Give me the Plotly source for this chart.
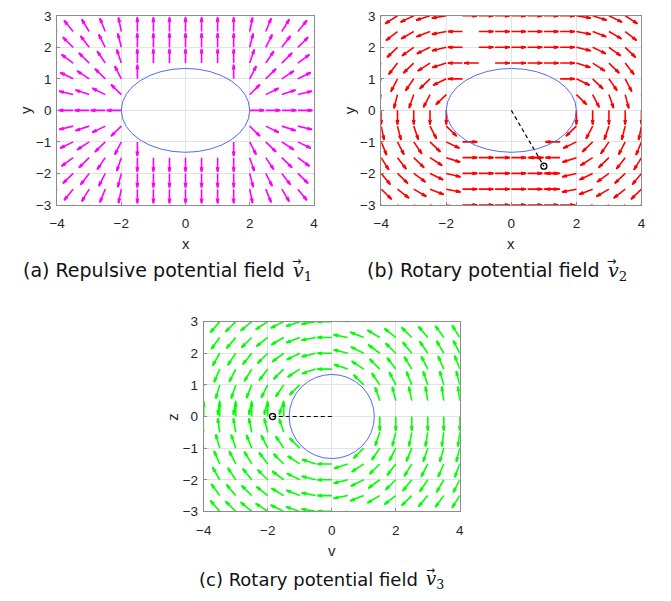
import math
import plotly.graph_objects as go

# ---------------- data ----------------
GRID_X = [-4.0, -3.5, -3.0, -2.5, -2.0, -1.5, -1.0, -0.5, 0.0, 0.5, 1.0, 1.5, 2.0, 2.5, 3.0, 3.5, 4.0]
GRID_Y = [-3.0, -2.5, -2.0, -1.5, -1.0, -0.5, 0.0, 0.5, 1.0, 1.5, 2.0, 2.5, 3.0]
X_TICKS = [-4, -2, 0, 2, 4]
Y_TICKS = [-3, -2, -1, 0, 1, 2, 3]

ELLIPSE_SEMI_AXES = [2.0, 1.33]     # obstacle in panels (a) and (b)
CORE_SEGMENT_HALF = 1.5             # repulsion core segment [-1.5, 1.5] x {0}
CIRCLE_RADIUS = 1.33                # obstacle in panel (c)
AGENT_B = [1.0, -1.77]              # marker of panel (b)
AGENT_C = [-1.85, 0.0]              # marker of panel (c)
ARROW_LEN = 0.45

COLORS = {"a": "#ff00ff", "b": "#ff0000", "c": "#00ff00"}
CAPTIONS = {
    "a": "(a) Repulsive potential field",
    "b": "(b) Rotary potential field",
    "c": "(c) Rotary potential field",
}
SUBS = {"a": "1", "b": "2", "c": "3"}
AXIS_NAMES = {"a": ("x", "y"), "b": ("x", "y"), "c": ("v", "z")}


# ---------------- field helpers ----------------
def unit(vx, vy):
    n = math.hypot(vx, vy)
    if n == 0:
        return None
    return vx / n, vy / n


def repulse_segment(x, y):
    cx = max(-CORE_SEGMENT_HALF, min(CORE_SEGMENT_HALF, x))
    return unit(x - cx, y)


def repulse_point(x, y):
    return unit(x, y)


def rotate(v, x, y, agent):
    cross = agent[0] * y - agent[1] * x
    if cross >= 0:
        return (v[1], -v[0])      # clockwise
    return (-v[1], v[0])          # counter-clockwise


def inside_ellipse(x, y):
    a, b = ELLIPSE_SEMI_AXES
    return (x / a) ** 2 + (y / b) ** 2 < 1.0


def inside_circle(x, y):
    return math.hypot(x, y) < CIRCLE_RADIUS


def quiver(field, mask):
    xs, ys = [], []
    al, be = 0.33, 0.23
    for gy in GRID_Y:
        for gx in GRID_X:
            if mask(gx, gy):
                continue
            v = field(gx, gy)
            if v is None:
                continue
            u, w = v[0] * ARROW_LEN, v[1] * ARROW_LEN
            ex, ey = gx + u, gy + w
            xs += [gx, ex, None,
                   ex - al * (u + be * w), ex, ex - al * (u - be * w), None]
            ys += [gy, ey, None,
                   ey - al * (w - be * u), ey, ey - al * (w + be * u), None]
    return xs, ys


def field_b(x, y):
    v = repulse_segment(x, y)
    return None if v is None else rotate(v, x, y, AGENT_B)


def field_c(x, y):
    v = repulse_point(x, y)
    return None if v is None else rotate(v, x, y, AGENT_C)


fields = {
    "a": (repulse_segment, inside_ellipse),
    "b": (field_b, inside_ellipse),
    "c": (field_c, inside_circle),
}

# ---------------- layout geometry (pixels of a 671x601 canvas) ----------------
W, H = 671, 601
BOXES = {  # left, right, top, bottom in px
    "a": (50, 311.5, 9, 203),
    "b": (380, 645, 9, 203),
    "c": (199.3, 460, 322.7, 517.3),
}
# px: x where the math symbol starts, y centre, font size
CAPTION_SPLIT = {"a": (288, 270, 19), "b": (609, 270, 19), "c": (424, 587, 18)}

fig = go.Figure()
annotations = []
shapes = []
axis_ids = {"a": ("x", "y"), "b": ("x2", "y2"), "c": ("x3", "y3")}
tick_font = dict(family="Liberation Sans, Arial, sans-serif", size=13.5, color="#262626")
title_font = dict(family="Liberation Sans, Arial, sans-serif", size=15, color="#262626")

for key in ["a", "b", "c"]:
    xa, ya = axis_ids[key]
    fx, mk = fields[key]
    xs, ys = quiver(fx, mk)
    fig.add_trace(go.Scatter(x=xs, y=ys, mode="lines", xaxis=xa, yaxis=ya,
                             line=dict(color=COLORS[key], width=1.6),
                             hoverinfo="skip", showlegend=False))
    if key == "c":
        r = CIRCLE_RADIUS
        shapes.append(dict(type="circle", xref=xa, yref=ya, x0=-r, x1=r, y0=-r, y1=r,
                           line=dict(color="#5468ff", width=1)))
    else:
        a, b = ELLIPSE_SEMI_AXES
        shapes.append(dict(type="circle", xref=xa, yref=ya, x0=-a, x1=a, y0=-b, y1=b,
                           line=dict(color="#5468ff", width=1)))
    if key in ("b", "c"):
        ag = AGENT_B if key == "b" else AGENT_C
        fig.add_trace(go.Scatter(x=[0, ag[0]], y=[0, ag[1]], mode="lines", xaxis=xa, yaxis=ya,
                                 line=dict(color="black", width=1.2, dash="4px,3px"),
                                 hoverinfo="skip", showlegend=False))
        fig.add_trace(go.Scatter(x=[ag[0]], y=[ag[1]], mode="markers", xaxis=xa, yaxis=ya,
                                 marker=dict(symbol="circle-open", size=6, color="black",
                                             line=dict(width=1.3)),
                                 hoverinfo="skip", showlegend=False))

    l, r_, t, b_ = BOXES[key]
    dom_x = [l / W, r_ / W]
    dom_y = [1 - b_ / H, 1 - t / H]
    axname_x = "xaxis" if xa == "x" else "xaxis" + xa[1:]
    axname_y = "yaxis" if ya == "y" else "yaxis" + ya[1:]
    common = dict(showgrid=True, gridcolor="#e3e3e3", gridwidth=1,
                  showline=True, linecolor="#8c8c8c", linewidth=1, mirror=True,
                  zeroline=False, ticks="inside", ticklen=3, tickcolor="#8c8c8c",
                  tickfont=tick_font, fixedrange=True)
    fig.update_layout(**{
        axname_x: dict(domain=dom_x, range=[-4, 4], tickvals=X_TICKS, anchor=ya,
                       ticklabelstandoff=6, **common),
        axname_y: dict(domain=dom_y, range=[-3, 3], tickvals=Y_TICKS, anchor=xa,
                       ticklabelstandoff=2, **common),
    })
    # axis titles
    nx, ny = AXIS_NAMES[key]
    annotations.append(dict(text=nx, x=(l + r_) / 2 / W, y=1 - (b_ + 40) / H,
                            xref="paper", yref="paper", showarrow=False,
                            xanchor="center", yanchor="middle", font=title_font))
    annotations.append(dict(text=ny, x=(l - 32) / W, y=1 - (t + b_) / 2 / H,
                            xref="paper", yref="paper", showarrow=False, textangle=-90,
                            xanchor="center", yanchor="middle", font=title_font))
    # caption: text + math part (v with arrow, subscript)
    sx, cy, fs = CAPTION_SPLIT[key]
    annotations.append(dict(text=CAPTIONS[key], x=(sx - 4) / W, y=1 - cy / H,
                            xref="paper", yref="paper", showarrow=False,
                            xanchor="right", yanchor="middle",
                            font=dict(family="DejaVu Sans, sans-serif", size=fs, color="#111111")))
    annotations.append(dict(text="<i>v</i><sub>" + SUBS[key] + "</sub>", x=sx / W, y=1 - (cy + 1) / H,
                            xref="paper", yref="paper", showarrow=False,
                            xanchor="left", yanchor="middle",
                            font=dict(family="DejaVu Serif, serif", size=fs, color="#111111")))
    annotations.append(dict(text="\u2192", x=(sx + 0.32 * fs) / W, y=1 - (cy - 0.5 * fs) / H,
                            xref="paper", yref="paper", showarrow=False,
                            xanchor="center", yanchor="middle",
                            font=dict(family="DejaVu Sans, sans-serif", size=0.6 * fs, color="#111111")))

fig.update_layout(width=W, height=H, margin=dict(l=0, r=0, t=0, b=0),
                  paper_bgcolor="white", plot_bgcolor="white",
                  annotations=annotations, shapes=shapes, showlegend=False)

fig.write_html("out.html", config={"displayModeBar": False, "staticPlot": True})

# remove the default page margin so the figure sits at the window origin
with open("out.html", "r", encoding="utf-8") as f:
    html = f.read()
html = html.replace("<head>", "<head><style>html,body{margin:0;padding:0;overflow:hidden;}</style>", 1)
with open("out.html", "w", encoding="utf-8") as f:
    f.write(html)
